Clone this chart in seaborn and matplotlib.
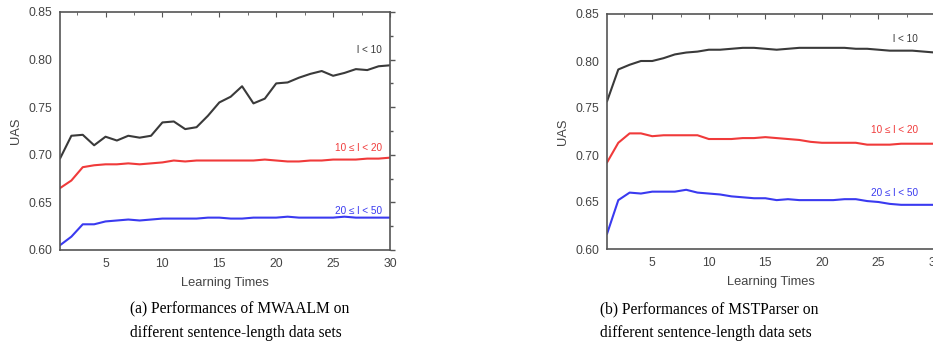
import numpy as np
import pandas as pd
from matplotlib import pyplot as plt
import seaborn as sns

# learning iterations 1..30
times = list(range(1, 31))

# (a) MWAALM
mwaalm_short = [0.696, 0.720, 0.721, 0.710, 0.719, 0.715, 0.720, 0.718, 0.720, 0.734,
                0.735, 0.727, 0.729, 0.741, 0.755, 0.761, 0.772, 0.754, 0.759, 0.775,
                0.776, 0.781, 0.785, 0.788, 0.783, 0.786, 0.790, 0.789, 0.793, 0.794]
mwaalm_mid = [0.665, 0.673, 0.687, 0.689, 0.690, 0.690, 0.691, 0.690, 0.691, 0.692,
              0.694, 0.693, 0.694, 0.694, 0.694, 0.694, 0.694, 0.694, 0.695, 0.694,
              0.693, 0.693, 0.694, 0.694, 0.695, 0.695, 0.695, 0.696, 0.696, 0.697]
mwaalm_long = [0.605, 0.614, 0.627, 0.627, 0.630, 0.631, 0.632, 0.631, 0.632, 0.633,
               0.633, 0.633, 0.633, 0.634, 0.634, 0.633, 0.633, 0.634, 0.634, 0.634,
               0.635, 0.634, 0.634, 0.634, 0.634, 0.635, 0.634, 0.634, 0.634, 0.634]

# (b) MSTParser
mst_short = [0.757, 0.791, 0.796, 0.800, 0.800, 0.803, 0.807, 0.809, 0.810, 0.812,
             0.812, 0.813, 0.814, 0.814, 0.813, 0.812, 0.813, 0.814, 0.814, 0.814,
             0.814, 0.814, 0.813, 0.813, 0.812, 0.811, 0.811, 0.811, 0.810, 0.809]
mst_mid = [0.692, 0.713, 0.723, 0.723, 0.720, 0.721, 0.721, 0.721, 0.721, 0.717,
           0.717, 0.717, 0.718, 0.718, 0.719, 0.718, 0.717, 0.716, 0.714, 0.713,
           0.713, 0.713, 0.713, 0.711, 0.711, 0.711, 0.712, 0.712, 0.712, 0.712]
mst_long = [0.616, 0.652, 0.660, 0.659, 0.661, 0.661, 0.661, 0.663, 0.660, 0.659,
            0.658, 0.656, 0.655, 0.654, 0.654, 0.652, 0.653, 0.652, 0.652, 0.652,
            0.652, 0.653, 0.653, 0.651, 0.650, 0.648, 0.647, 0.647, 0.647, 0.647]

groups = ['l < 10', '10 \u2264 l < 20', '20 \u2264 l < 50']
colors = ['#3a3a3a', '#f03a3a', '#3a3af0']


def make_df(short, mid, long):
    df = pd.DataFrame({'times': times, groups[0]: short, groups[1]: mid, groups[2]: long})
    return df.melt(id_vars='times', var_name='group', value_name='uas')


sns.set_style('white')
plt.rcParams['font.family'] = ['Liberation Sans', 'DejaVu Sans']

fig = plt.figure(figsize=(9.33, 3.62), dpi=100)
ax_a = fig.add_axes([60 / 933, 1 - 250 / 362, 330 / 933, 238 / 362])
ax_b = fig.add_axes([607 / 933, 1 - 249 / 362, 328 / 933, 235 / 362])


def draw_panel(ax, df, label_x, label_y):
    sns.lineplot(data=df, x='times', y='uas', hue='group', hue_order=groups,
                 palette=colors, linewidth=1.5, legend=False, ax=ax)
    ax.set_xlim(1, 30)
    ax.set_ylim(0.60, 0.85)
    ax.set_xticks([5, 10, 15, 20, 25, 30])
    ax.set_xticks(np.arange(2.5, 30.1, 2.5), minor=True)
    ax.set_yticks([0.60, 0.65, 0.70, 0.75, 0.80, 0.85])
    ax.set_yticks(np.arange(0.625, 0.85, 0.05), minor=True)
    ax.yaxis.set_major_formatter(plt.FormatStrFormatter('%.2f'))
    ax.tick_params(axis='both', which='both', direction='out', colors='#555555',
                   labelcolor='#444444', labelsize=8.8, width=1, right=True, pad=2)
    ax.tick_params(which='major', length=3.5)
    ax.tick_params(which='minor', length=2)
    top = ax.secondary_xaxis('top')
    top.set_xticks([5, 10, 15, 20, 25, 30])
    top.set_xticks(np.arange(2.5, 30.1, 2.5), minor=True)
    top.tick_params(which='both', direction='in', labeltop=False, colors='#555555')
    top.tick_params(which='major', length=3.5)
    top.tick_params(which='minor', length=2)
    top.spines['top'].set_visible(False)
    for sp in ax.spines.values():
        sp.set_color('#555555')
        sp.set_linewidth(1.2)
    ax.set_xlabel('Learning Times', fontsize=9.3, color='#444444', labelpad=5)
    ax.set_ylabel('UAS', fontsize=9.3, color='#444444', labelpad=5)
    for g, c, y in zip(groups, colors, label_y):
        ax.text(label_x, y, g, color=c, fontsize=7.2, ha='right', va='center')


draw_panel(ax_a, make_df(mwaalm_short, mwaalm_mid, mwaalm_long), 29.3, [0.810, 0.707, 0.641])
draw_panel(ax_b, make_df(mst_short, mst_mid, mst_long), 28.5, [0.823, 0.727, 0.660])

cap = dict(fontsize=11.2, family='Liberation Serif', color='black', ha='left', va='center')
fig.text(130 / 933, 1 - 309 / 362, '(a) Performances of MWAALM on', **cap)
fig.text(130 / 933, 1 - 333 / 362, 'different sentence-length data sets', **cap)
fig.text(600 / 933, 1 - 309 / 362, '(b) Performances of MSTParser on', **cap)
fig.text(600 / 933, 1 - 333 / 362, 'different sentence-length data sets', **cap)

fig.savefig('out.png', dpi=100)
